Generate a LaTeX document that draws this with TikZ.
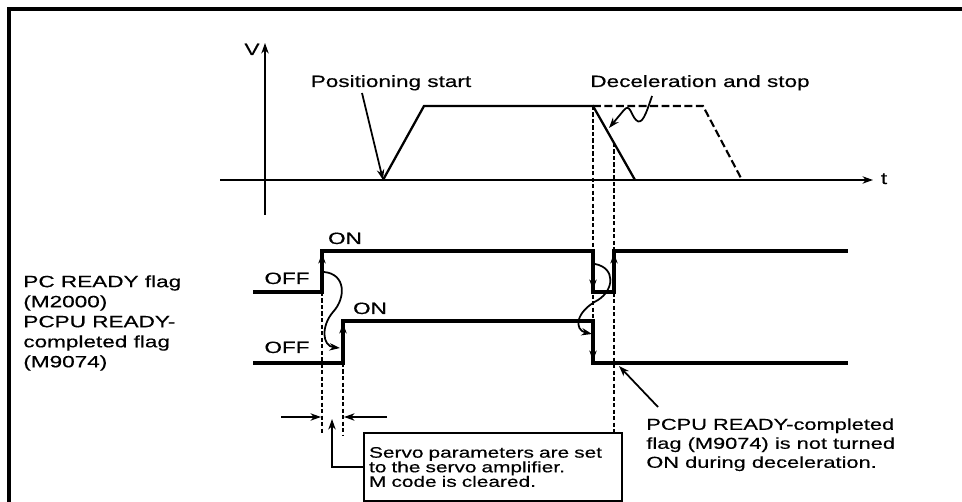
\documentclass[tikz,border=0pt]{standalone}
\usepackage{fontspec}
\setmainfont{Liberation Sans}[FakeStretch=1.38, FakeBold=0.4]
\setsansfont{Liberation Sans}[FakeStretch=1.38, FakeBold=0.4]
\usetikzlibrary{arrows.meta, positioning}
\tikzset{
    font=\sffamily\fontsize{9.3pt}{11.4pt}\selectfont,
    >={Stealth[length=6pt, width=4.2pt]},
    % Lines
    frameLine/.style={line width=1.8pt},
    axis/.style={->, line width=1.3pt},
    profile/.style={line width=1.3pt},
    planned/.style={line width=1.2pt, dash pattern=on 4.5pt off 2pt},
    signal/.style={line width=1.8pt},
    guide/.style={line width=0.9pt, dash pattern=on 2.5pt off 1.2pt},
    pointer/.style={->, line width=1pt},
    edgeArrow/.style={->, line width=1.2pt},
    % Labels
    lbl/.style={inner sep=0pt, anchor=base},
    note/.style={inner sep=0pt, anchor=north west, align=left},
    servoBox/.style={draw, line width=1.2pt, anchor=north west, align=left,
                     minimum width=5.16cm, minimum height=1.36cm, text width=4.96cm,
                     inner xsep=0.1cm, inner ysep=0pt,
                     font=\sffamily\fontsize{8.6pt}{8.3pt}\selectfont}
}

\begin{document}
\begin{tikzpicture}[x=0.02cm, y=-0.02cm]
\useasboundingbox (0,0) rectangle (962,502);

% Frame
\draw[frameLine] (9,502) -- (9,9) -- (962,9);

% Axes
\coordinate (vTail) at (265,215);
\coordinate (vTip) at (265,43);
\coordinate (tTail) at (220,180);
\coordinate (tTip) at (873,180);
\draw[axis] (vTail) -- (vTip);
\draw[axis] (tTail) -- (tTip);
\node[lbl] (vLbl) at (252,55) {V};
\node[lbl] (tLbl) at (884,184) {t};

% Speed profile
\coordinate (accStart) at (383,180);
\coordinate (accEnd) at (424,106);
\coordinate (decStart) at (593,106);
\coordinate (decEnd) at (635,180);
\coordinate (decCross) at (614,143);
\coordinate (planEnd) at (703,106);
\coordinate (planStop) at (742,180);
\draw[profile] (accStart) -- (accEnd) -- (decStart) -- (decEnd);
\draw[planned] (decStart) -- (planEnd) -- (planStop);

\node[lbl] (posStart) at (391,87) {Positioning start};
\node[lbl] (decLbl) at (700,87) {Deceleration and stop};
\coordinate (posTail) at (362,93);
\draw[pointer] (posTail) -- (accStart);
\coordinate (decTail) at (652,96);
\coordinate (decTip) at (609,128);
\draw[pointer] (decTail) .. controls (646,114) and (642,126) .. (636,120)
    .. controls (631,115) and (630,103) .. (624,110) -- (decTip);

% Signals
\draw[signal] (253,292) -- (322,292) -- (322,251) -- (593,251) -- (593,292)
    -- (614,292) -- (614,251) -- (848,251);
\draw[signal] (253,363) -- (343,363) -- (343,321) -- (593,321) -- (593,363) -- (848,363);

% Guides
\draw[guide] (decStart) -- (593,363);
\draw[guide] (decCross) -- (614,432);
\draw[guide] (322,292) -- (322,435);
\draw[guide] (343,363) -- (343,435);

% Edge arrows
\draw[edgeArrow] (322,290) -- (322,253);
\draw[edgeArrow] (343,361) -- (343,323);
\draw[edgeArrow] (593,253) -- (593,290);
\draw[edgeArrow] (614,290) -- (614,253);
\draw[edgeArrow] (593,323) -- (593,361);

% Cause arrows
\draw[pointer] (324,272) .. controls (346,274) and (346,298) .. (333,312)
    .. controls (321,326) and (322,346) .. (340,348);
\draw[pointer] (595,264) .. controls (616,268) and (614,290) .. (598,300)
    .. controls (575,312) and (574,330) .. (592,334);

% ON / OFF
\node[lbl] (onPc) at (345,244) {ON};
\node[lbl] (offPc) at (287,284) {OFF};
\node[lbl] (onPcpu) at (370,314) {ON};
\node[lbl] (offPcpu) at (287,353) {OFF};

\node[note] (flagLbl) at (23,275) {PC READY flag\\(M2000)\\PCPU READY-\\completed flag\\(M9074)};

% Notes
\node[note, font=\sffamily\fontsize{9pt}{10.8pt}\selectfont] (notOnNote) at (646,418)
    {PCPU READY-completed\\flag (M9074) is not turned\\ON during deceleration.};
\coordinate (noteTail) at (658,407);
\coordinate (noteTip) at (619,366);
\draw[pointer] (noteTail) -- (noteTip);

\node[servoBox] (servoNote) at (363,432)
    {Servo parameters are set\\to the servo amplifier.\\M code is cleared.};
\coordinate (gapL) at (321,417);
\coordinate (gapR) at (344,417);
\coordinate (dimLTail) at (281,417);
\coordinate (dimRTail) at (387,417);
\coordinate (gapMid) at (332,419);
\draw[pointer] (dimLTail) -- (gapL);
\draw[pointer] (dimRTail) -- (gapR);
\draw[pointer] (servoNote.west) -| (gapMid);

\end{tikzpicture}
\end{document}
